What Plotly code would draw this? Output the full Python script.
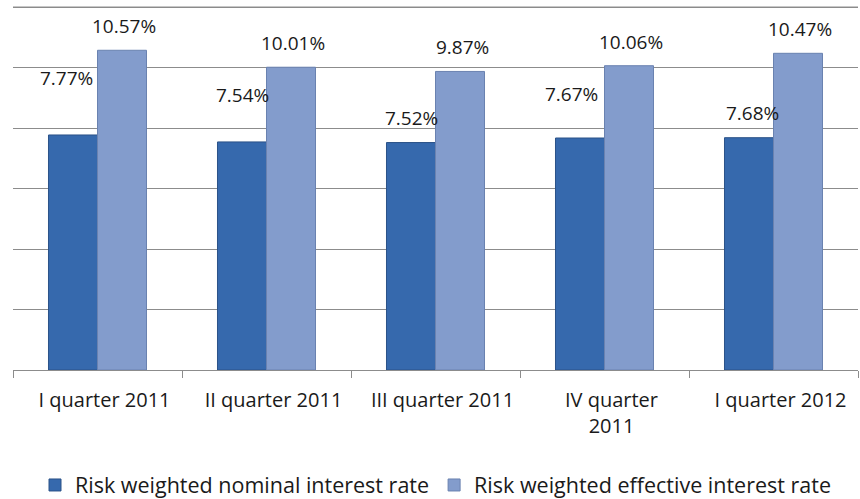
import plotly.graph_objects as go

quarters = ["I quarter 2011", "II quarter 2011", "III quarter 2011", "IV quarter<br>2011", "I quarter 2012"]
nominal = [7.77, 7.54, 7.52, 7.67, 7.68]
effective = [10.57, 10.01, 9.87, 10.06, 10.47]
series_names = ["Risk weighted nominal interest rate", "Risk weighted effective interest rate"]
y_max = 12
y_top = 12.1  # a little headroom so the top gridline sits inside the plot

# label placement (pixel offsets from the top centre of each bar)
nominal_label_dx = [-7, 0, 0, -9, 3]
nominal_label_dy = [57, 47, 25, 44, 25]
effective_label_dx = 2
effective_label_dy = 24

FONT = "Open Sans"
TEXT_COLOR = "#1a1a1a"
GRID_COLOR = "#8c8c8c"
HALF_BAR = 24.5  # half a bar's width in px, for placing labels over each bar of a pair

fig = go.Figure()
fig.add_trace(go.Bar(
    x=quarters, y=nominal, name=series_names[0],
    marker=dict(color="#3669ad", line=dict(color="#2b5288", width=1)),
))
fig.add_trace(go.Bar(
    x=quarters, y=effective, name=series_names[1],
    marker=dict(color="#839ccc", line=dict(color="#6a82b0", width=1)),
))

for q, v, dx, dy in zip(quarters, nominal, nominal_label_dx, nominal_label_dy):
    fig.add_annotation(x=q, y=v, text=f"{v:.2f}%", showarrow=False,
                       xshift=-HALF_BAR + dx, yshift=dy,
                       font=dict(size=19, color=TEXT_COLOR, family=FONT))
for q, v in zip(quarters, effective):
    fig.add_annotation(x=q, y=v, text=f"{v:.2f}%", showarrow=False,
                       xshift=HALF_BAR + effective_label_dx, yshift=effective_label_dy,
                       font=dict(size=19, color=TEXT_COLOR, family=FONT))

# topmost gridline, drawn in plot-fraction coordinates
fig.add_shape(type="line", xref="paper", x0=0, x1=1,
              yref="paper", y0=y_max / y_top, y1=y_max / y_top,
              line=dict(color=GRID_COLOR, width=1), layer="above")

fig.update_layout(
    width=860, height=499,
    margin=dict(l=13, r=2, t=4, b=129, autoexpand=False),
    paper_bgcolor="white", plot_bgcolor="white",
    barmode="group", bargap=0.42, bargroupgap=0,
    font=dict(family=FONT, size=20, color=TEXT_COLOR),
    showlegend=True,
    legend=dict(orientation="h", x=0.5, xanchor="center",
                yref="container", y=1 - 485 / 499, yanchor="middle",
                font=dict(size=21.5, family=FONT, color=TEXT_COLOR),
                itemwidth=30, tracegroupgap=0),
)
fig.update_xaxes(
    showline=True, linecolor=GRID_COLOR, linewidth=1,
    ticks="outside", tickson="boundaries", ticklen=7, tickcolor=GRID_COLOR,
    tickfont=dict(size=20, family=FONT, color=TEXT_COLOR),
    ticklabelstandoff=12, ticklabelshift=7,
    showgrid=False,
)
fig.update_yaxes(
    range=[0, y_top], dtick=2, showticklabels=False,
    showgrid=True, gridcolor=GRID_COLOR, gridwidth=1,
    zeroline=False, showline=False,
)

fig.write_html("out.html")
